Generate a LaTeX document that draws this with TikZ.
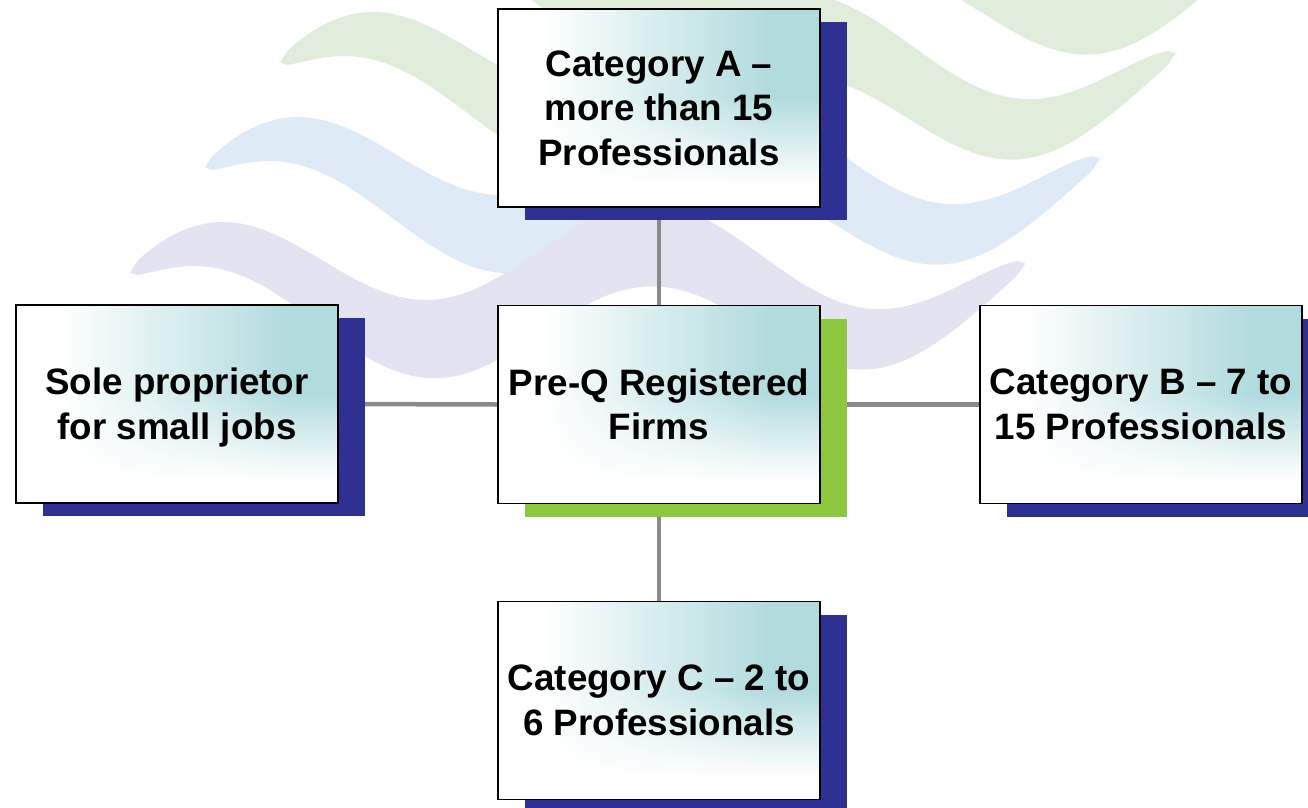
\documentclass[tikz,border=0pt]{standalone}
\usepackage{fontspec}
\setmainfont{Liberation Sans}
\usetikzlibrary{shadows}
\pgfdeclarelayer{waves}
\pgfdeclarelayer{links}
\pgfsetlayers{waves,links,main}
\definecolor{navyshadow}{RGB}{46,49,146}
\definecolor{greenshadow}{RGB}{141,198,63}
\definecolor{linkgray}{RGB}{138,138,138}
\definecolor{wavegreen}{RGB}{224,237,219}
\definecolor{waveblue}{RGB}{222,235,246}
\definecolor{wavepurple}{RGB}{228,227,242}
% white -> teal (178,219,222), teal towards the upper right
\pgfdeclarefunctionalshading{cardshade}{\pgfpoint{0bp}{0bp}}{\pgfpoint{100bp}{100bp}}{}{
  31 sub 21.5 div dup 0 lt {pop 0} if dup 1 gt {pop 1} if
  exch 32 sub 35 div dup 0 lt {pop 0} if dup 1 gt {pop 1} if
  mul
  dup 0.302 mul 1 exch sub
  exch dup 0.141 mul 1 exch sub
  exch 0.129 mul 1 exch sub
}
\tikzset{
  card/.style={draw=black, line width=1.6bp, minimum width=322bp, minimum height=198bp,
    inner sep=0pt, align=center, font=\bfseries\fontsize{36.9}{44.6}\selectfont,
    shade, shading=cardshade},
  navycard/.style={card, drop shadow={shadow xshift=27bp, shadow yshift=-13bp, fill=navyshadow, opacity=1}},
  greencard/.style={card, drop shadow={shadow xshift=27bp, shadow yshift=-13bp, fill=greenshadow, opacity=1}},
  link/.style={draw=linkgray, line width=4.5bp}
}
\newcommand\waveband[3]{%
  \begin{scope}[shift={(#1,#2)}]
    \fill[#3] plot[domain=280:1175,samples=120,smooth]
      (\x,{82-47*cos((\x-360)/220*180)-42*sqrt(max(sin((\x-280)/895*180),0))})
      -- plot[domain=1175:280,samples=120,smooth]
      (\x,{82-47*cos((\x-360)/220*180)+42*sqrt(max(sin((\x-280)/895*180),0))})
      -- cycle;
  \end{scope}}
\begin{document}
\begin{tikzpicture}[x=1bp,y=-1bp]
  \useasboundingbox (0,0) rectangle (1308,807);
  \begin{pgfonlayer}{waves}
    \fill[white] (0,0) rectangle (1308,807);
    \waveband{75}{-105}{wavegreen}
    \waveband{0}{0}{wavegreen}
    \waveband{-75}{105}{waveblue}
    \waveband{-150}{210}{wavepurple}
  \end{pgfonlayer}

  \node[navycard] (catA) at (659,108) {Category A –\\more than 15\\Professionals};
  \node[navycard] (sole) at (177,404) {Sole proprietor\\for small \smash{jobs}};
  \node[greencard] (hub) at (659,404.5) {Pre-Q Registered\\Firms};
  \node[navycard] (catB) at (1141,404.5) {Category B – 7 to\\15 Professionals};
  \node[navycard] (catC) at (659,700.5) {Category C – 2 to\\6 Professionals};

  \begin{pgfonlayer}{links}
    \draw[link] (catA.south) -- (hub.north);
    \draw[link] (sole.east) -- (hub.west);
    \draw[link] (hub.east) -- (catB.west);
    \draw[link] (hub.south) -- (catC.north);
  \end{pgfonlayer}
\end{tikzpicture}
\end{document}
